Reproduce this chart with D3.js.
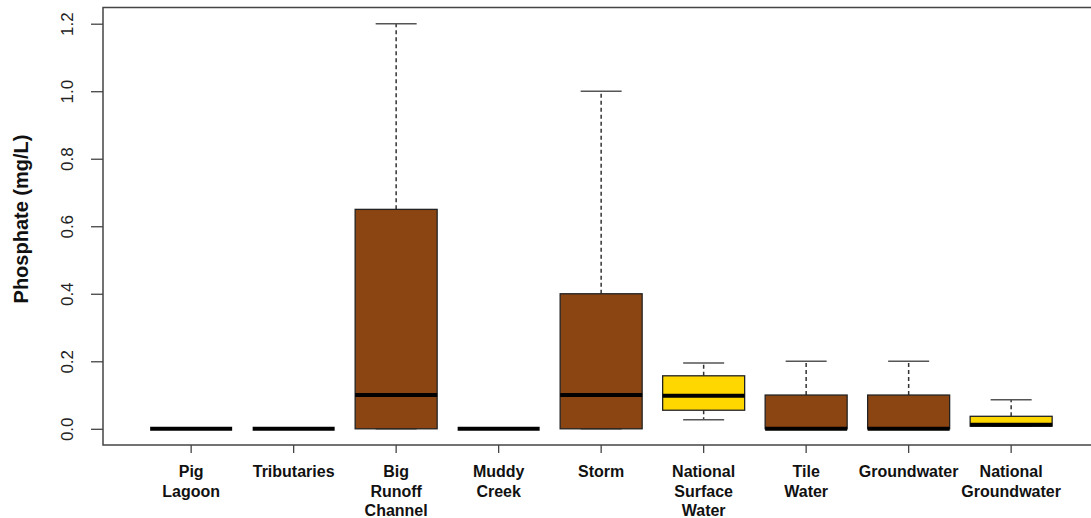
<!DOCTYPE html>
<html>
<head>
<meta charset="utf-8">
<script src="https://cdn.jsdelivr.net/npm/d3@7"></script>
<style>
  html, body { margin: 0; padding: 0; background: #fff; }
  svg { display: block; }
</style>
</head>
<body>
<svg id="chart" width="1091" height="518"></svg>
<script>
// Phosphate concentrations by water source (mg/L), five-number summaries
const categories = [
  ["Pig", "Lagoon"],
  ["Tributaries"],
  ["Big", "Runoff", "Channel"],
  ["Muddy", "Creek"],
  ["Storm"],
  ["National", "Surface", "Water"],
  ["Tile", "Water"],
  ["Groundwater"],
  ["National", "Groundwater"]
];
const lowerWhisker = [0, 0, 0,    0, 0,   0.027, 0,    0,    0.008];
const lowerQuartile = [0, 0, 0,    0, 0,   0.055, 0,    0,    0.008];
const medianValue  = [0, 0, 0.1,  0, 0.1, 0.098, 0,    0,    0.012];
const upperQuartile = [0, 0, 0.65, 0, 0.4, 0.157, 0.1,  0.1,  0.037];
const upperWhisker = [0, 0, 1.2,  0, 1.0, 0.195, 0.2,  0.2,  0.086];
const national     = [false, false, false, false, false, true, false, false, true];
const yTicks = [0, 0.2, 0.4, 0.6, 0.8, 1.0, 1.2];

const svg = d3.select("#chart");
const fillLocal = "#8B4513";
const fillNational = "#FFD700";
const fontFamily = "Liberation Sans, Arial, sans-serif";

const x = d3.scaleLinear().domain([0.14, 9.86]).range([103, 1099.3]);
const y = d3.scaleLinear().domain([-0.048, 1.248]).range([445, 7.5]);

const boxHalf = 0.4, capHalf = 0.2;

const data = categories.map((c, i) => ({
  i, label: c,
  lo: lowerWhisker[i], q1: lowerQuartile[i], med: medianValue[i],
  q3: upperQuartile[i], hi: upperWhisker[i], nat: national[i]
}));

const g = svg.append("g");

// whiskers (dashed)
g.selectAll("line.wu").data(data).join("line")
  .attr("x1", d => x(d.i + 1)).attr("x2", d => x(d.i + 1))
  .attr("y1", d => y(d.q3)).attr("y2", d => y(d.hi))
  .attr("stroke", "#333").attr("stroke-width", 1.5).attr("stroke-dasharray", "4,3");
g.selectAll("line.wl").data(data).join("line")
  .attr("x1", d => x(d.i + 1)).attr("x2", d => x(d.i + 1))
  .attr("y1", d => y(d.q1)).attr("y2", d => y(d.lo))
  .attr("stroke", "#333").attr("stroke-width", 1.5).attr("stroke-dasharray", "4,3");

// whisker caps
["hi", "lo"].forEach(k => {
  g.selectAll("line.cap-" + k).data(data).join("line")
    .attr("x1", d => x(d.i + 1 - capHalf)).attr("x2", d => x(d.i + 1 + capHalf))
    .attr("y1", d => y(d[k])).attr("y2", d => y(d[k]))
    .attr("stroke", "#555").attr("stroke-width", 1.5);
});

// boxes
g.selectAll("rect.box").data(data).join("rect")
  .attr("x", d => x(d.i + 1 - boxHalf))
  .attr("width", d => x(d.i + 1 + boxHalf) - x(d.i + 1 - boxHalf))
  .attr("y", d => y(d.q3))
  .attr("height", d => y(d.q1) - y(d.q3))
  .attr("fill", d => d.nat ? fillNational : fillLocal)
  .attr("stroke", "#222").attr("stroke-width", 1.3);

// medians
g.selectAll("line.med").data(data).join("line")
  .attr("x1", d => x(d.i + 1 - boxHalf)).attr("x2", d => x(d.i + 1 + boxHalf))
  .attr("y1", d => y(d.med)).attr("y2", d => y(d.med))
  .attr("stroke", "#000").attr("stroke-width", 4);

// plot frame
svg.append("rect")
  .attr("x", 103).attr("y", 7.5)
  .attr("width", 1099.3 - 103).attr("height", 445 - 7.5)
  .attr("fill", "none").attr("stroke", "#444").attr("stroke-width", 1.5);

// y axis
const yAxis = svg.append("g").attr("transform", "translate(103,0)")
  .call(d3.axisLeft(y).tickValues(yTicks).tickFormat(d3.format(".1f")).tickSize(12).tickSizeOuter(0));
yAxis.select(".domain").remove();
yAxis.selectAll(".tick line").attr("stroke", "#444").attr("stroke-width", 1.3);
yAxis.selectAll(".tick text")
  .attr("transform", "rotate(-90)")
  .attr("x", 0).attr("y", -36).attr("dy", "0.35em")
  .style("text-anchor", "middle")
  .style("font-family", fontFamily)
  .style("font-size", "17px").attr("fill", "#222");

// x axis ticks and multi-line labels
const xAxis = svg.append("g").attr("transform", "translate(0,445)");
xAxis.selectAll("line").data(data).join("line")
  .attr("x1", d => x(d.i + 1)).attr("x2", d => x(d.i + 1))
  .attr("y1", 0).attr("y2", 8)
  .attr("stroke", "#444").attr("stroke-width", 1.3);
const labels = xAxis.selectAll("text").data(data).join("text")
  .attr("text-anchor", "middle")
  .style("font-family", fontFamily)
  .style("font-size", "16px").style("font-weight", "bold").attr("fill", "#111");
labels.selectAll("tspan").data(d => d.label.map(t => ({ t, cx: x(d.i + 1) }))).join("tspan")
  .attr("x", d => d.cx)
  .attr("y", (d, j) => 32 + j * 19.5)
  .text(d => d.t);

// y axis title
svg.append("text")
  .attr("transform", "translate(21,219) rotate(-90)")
  .attr("text-anchor", "middle")
  .attr("dy", "0.35em")
  .style("font-family", fontFamily)
  .style("font-size", "20px").style("font-weight", "bold").attr("fill", "#111")
  .text("Phosphate (mg/L)");
</script>
</body>
</html>
